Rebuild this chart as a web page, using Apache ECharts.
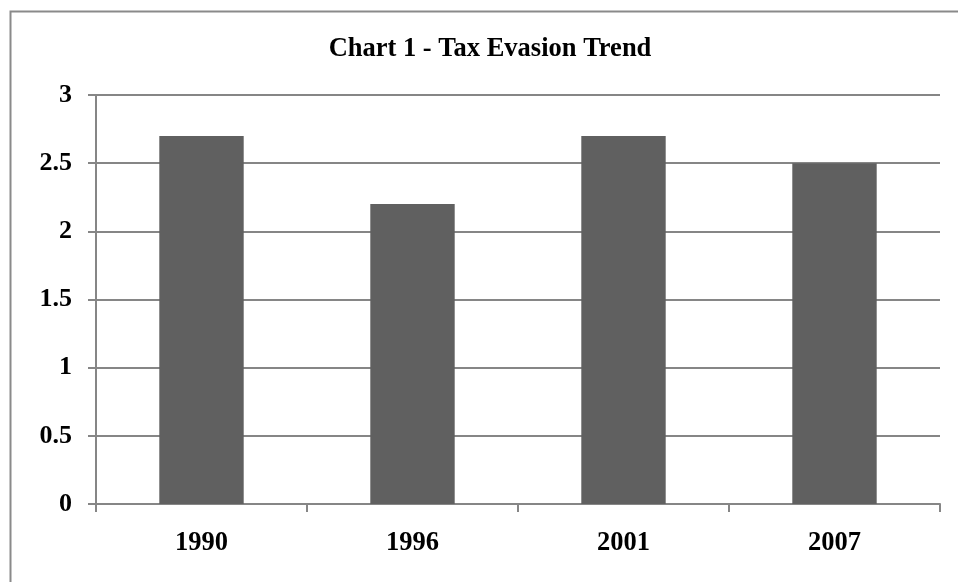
<!DOCTYPE html>
<html>
<head>
<meta charset="utf-8">
<script src="https://cdn.jsdelivr.net/npm/echarts@6/dist/echarts.min.js"></script>
<style>
html,body{margin:0;padding:0;background:#fff;}
#chart{width:958px;height:582px;}
</style>
</head>
<body>
<div id="chart"></div>
<script>
const titleText = 'Chart 1 - Tax Evasion Trend';
const categories = ['1990', '1996', '2001', '2007'];
const values = [2.7, 2.2, 2.7, 2.5];
const yTicks = [0, 0.5, 1, 1.5, 2, 2.5, 3];

const font = '"Liberation Serif", "Times New Roman", serif';
const chart = echarts.init(document.getElementById('chart'), null, {renderer: 'canvas'});
chart.setOption({
  backgroundColor: '#ffffff',
  animation: false,
  graphic: [{
    type: 'rect',
    shape: {x: 10.5, y: 11.5, width: 1000, height: 1000},
    style: {fill: 'none', stroke: '#8a8a8a', lineWidth: 2},
    silent: true
  }],
  title: {
    text: titleText,
    left: 485,
    textAlign: 'center',
    top: 31,
    textStyle: {fontFamily: font, fontWeight: 'bold', fontSize: 26.5, color: '#000'}
  },
  grid: {left: 96, right: 18, top: 95, bottom: 78, containLabel: false},
  xAxis: {
    type: 'category',
    data: categories,
    boundaryGap: true,
    axisLine: {show: true, lineStyle: {color: '#868686', width: 2}},
    axisTick: {show: true, inside: false, length: 8, alignWithLabel: false, lineStyle: {color: '#868686', width: 2}},
    axisLabel: {margin: 26, fontFamily: font, fontWeight: 'bold', fontSize: 26.5, color: '#000'},
    splitLine: {show: false}
  },
  yAxis: {
    type: 'value',
    min: yTicks[0],
    max: yTicks[yTicks.length - 1],
    interval: 0.5,
    axisLine: {show: true, lineStyle: {color: '#868686', width: 2}},
    axisTick: {show: true, inside: false, length: 8, lineStyle: {color: '#868686', width: 2}},
    axisLabel: {margin: 24, fontFamily: font, fontWeight: 'bold', fontSize: 26, color: '#000'},
    splitLine: {show: true, lineStyle: {color: '#868686', width: 2}}
  },
  series: [{
    type: 'bar',
    data: values,
    barWidth: '40%',
    itemStyle: {color: '#606060'},
    z: 3
  }]
});
</script>
</body>
</html>
